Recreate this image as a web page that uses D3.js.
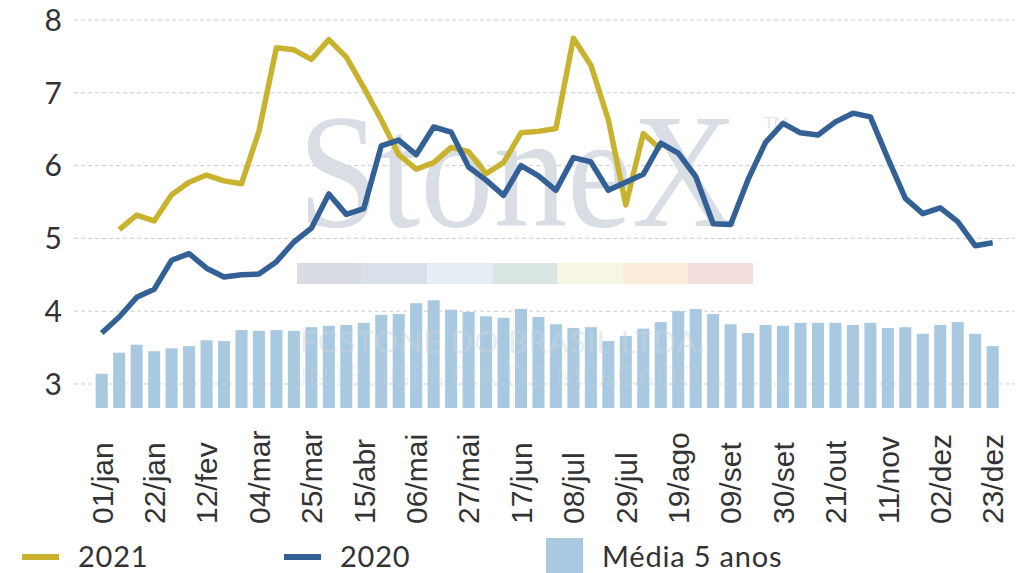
<!DOCTYPE html>
<html>
<head>
<meta charset="utf-8">
<script src="https://cdn.jsdelivr.net/npm/d3@7/dist/d3.min.js"></script>
<style>
  html, body { margin: 0; padding: 0; background: #fff; }
  svg { display: block; }
</style>
</head>
<body>
<svg id="chart"></svg>
<script>
// weekly dates (one per bar)
const weeks = [
  '01/jan', '08/jan', '15/jan', '22/jan', '29/jan',
  '05/fev', '12/fev', '19/fev', '26/fev',
  '04/mar', '11/mar', '18/mar', '25/mar',
  '01/abr', '08/abr', '15/abr', '22/abr', '29/abr',
  '06/mai', '13/mai', '20/mai', '27/mai',
  '03/jun', '10/jun', '17/jun', '24/jun',
  '01/jul', '08/jul', '15/jul', '22/jul', '29/jul',
  '05/ago', '12/ago', '19/ago', '26/ago',
  '02/set', '09/set', '16/set', '23/set', '30/set',
  '07/out', '14/out', '21/out', '28/out',
  '04/nov', '11/nov', '18/nov', '25/nov',
  '02/dez', '09/dez', '16/dez', '23/dez'
];

const tickLabels = ['01/jan', '22/jan', '12/fev', '04/mar', '25/mar', '15/abr', '06/mai', '27/mai',
  '17/jun', '08/jul', '29/jul', '19/ago', '09/set', '30/set', '21/out', '11/nov', '02/dez', '23/dez'];

const yTicks = [3, 4, 5, 6, 7, 8];

const media5 = [3.14, 3.43, 3.54, 3.45, 3.49, 3.52, 3.60, 3.59, 3.74, 3.73,
  3.74, 3.73, 3.78, 3.80, 3.81, 3.84, 3.95, 3.96, 4.11, 4.15,
  4.02, 3.99, 3.93, 3.91, 4.03, 3.92, 3.82, 3.77, 3.78, 3.59,
  3.66, 3.76, 3.85, 4.00, 4.03, 3.96, 3.82, 3.70, 3.81, 3.80,
  3.84, 3.84, 3.84, 3.81, 3.84, 3.77, 3.78, 3.69, 3.81, 3.85,
  3.69, 3.52];

const s2020 = [3.70, 3.92, 4.19, 4.30, 4.70, 4.79, 4.59, 4.47, 4.50, 4.51,
  4.68, 4.95, 5.14, 5.61, 5.33, 5.41, 6.27, 6.35, 6.15, 6.53,
  6.46, 5.98, 5.80, 5.59, 6.00, 5.86, 5.66, 6.11, 6.05, 5.66,
  5.77, 5.88, 6.31, 6.17, 5.85, 5.20, 5.19, 5.81, 6.32, 6.58,
  6.45, 6.42, 6.60, 6.72, 6.67, 6.10, 5.55, 5.34, 5.42, 5.23,
  4.90, 4.94];

const s2021 = [null, 5.12, 5.32, 5.24, 5.60, 5.77, 5.87, 5.79, 5.75, 6.47,
  7.62, 7.59, 7.46, 7.73, 7.49, 7.07, 6.63, 6.15, 5.95, 6.04,
  6.25, 6.19, 5.89, 6.04, 6.45, 6.47, 6.51, 7.75, 7.38, 6.63,
  5.46, 6.44, 6.22, null, null, null, null, null, null, null,
  null, null, null, null, null, null, null, null, null, null,
  null, null];

const COLOR_2021 = '#c9b22e';
const COLOR_2020 = '#336195';
const COLOR_BAR = '#a9c9e1';
const TEXT = '#333333';

const width = 1024, height = 573;

const svg = d3.select('#chart')
  .attr('width', width)
  .attr('height', height)
  .attr('viewBox', `0 0 ${width} ${height}`);

const x = d3.scaleBand()
  .domain(weeks)
  .range([93, 1001.4])
  .paddingInner(0.31)
  .paddingOuter(0.155);

const y = d3.scaleLinear()
  .domain([2.67, 8])
  .range([408, 20]);

const cx = d => x(d) + x.bandwidth() / 2;

// grid
svg.append('g')
  .selectAll('line')
  .data(yTicks)
  .join('line')
  .attr('x1', 74)
  .attr('x2', 1015)
  .attr('y1', d => y(d))
  .attr('y2', d => y(d))
  .attr('stroke', '#cfcfcf')
  .attr('stroke-width', 1)
  .attr('stroke-dasharray', '4,3');

// y labels
svg.append('g')
  .selectAll('text')
  .data(yTicks)
  .join('text')
  .attr('x', 62)
  .attr('y', d => y(d))
  .attr('dy', '0.36em')
  .attr('text-anchor', 'end')
  .attr('font-family', 'Lato, sans-serif')
  .attr('font-size', '30px')
  .attr('fill', TEXT)
  .text(d => d);

// bars
svg.append('g')
  .selectAll('rect')
  .data(media5)
  .join('rect')
  .attr('x', (d, i) => x(weeks[i]))
  .attr('width', x.bandwidth())
  .attr('y', d => y(d))
  .attr('height', d => y(2.67) - y(d))
  .attr('fill', COLOR_BAR);

// watermark
const wm = svg.append('g').attr('pointer-events', 'none');
const logo = wm.append('text')
  .attr('x', 0)
  .attr('y', 0)
  .attr('font-family', '"Liberation Serif", serif')
  .attr('font-size', '164px')
  .attr('fill', '#d9dee5')
  .text('StoneX');
const logoLen = logo.node().getComputedTextLength();
logo.attr('transform', `translate(298, 226) scale(${440 / logoLen}, 1)`);
wm.append('text')
  .attr('x', 764)
  .attr('y', 128)
  .attr('font-family', 'Lato, sans-serif')
  .attr('font-size', '16px')
  .attr('fill', '#e2e6eb')
  .text('TM');
const stripColors = ['#d9dce2', '#d8e0e9', '#e5edf5', '#d9e5e1', '#f7f6e5', '#f9ecd9', '#f2dcdc'];
const strip = d3.scaleBand().domain(d3.range(stripColors.length)).range([297, 753]);
wm.append('g')
  .selectAll('rect')
  .data(stripColors)
  .join('rect')
  .attr('x', (d, i) => strip(i))
  .attr('y', 263)
  .attr('width', strip.bandwidth())
  .attr('height', 21)
  .attr('fill', d => d);
wm.append('text')
  .attr('x', 300)
  .attr('y', 353)
  .attr('font-family', 'Lato, sans-serif')
  .attr('font-size', '30px')
  .attr('textLength', 405)
  .attr('lengthAdjust', 'spacing')
  .attr('fill', '#d0d4da')
  .attr('fill-opacity', 0.45)
  .text('FCSTONE DO BRASIL LTDA.');
wm.append('text')
  .attr('x', 300)
  .attr('y', 386)
  .attr('font-family', 'Lato, sans-serif')
  .attr('font-weight', 300)
  .attr('font-size', '27px')
  .attr('textLength', 400)
  .attr('lengthAdjust', 'spacing')
  .attr('fill', '#d0d4da')
  .attr('fill-opacity', 0.35)
  .text('INTELIGÊNCIA DE MERCADO');

// lines
const line = d3.line()
  .defined(d => d.v != null)
  .x(d => cx(d.w))
  .y(d => y(d.v));

svg.append('path')
  .datum(weeks.map((w, i) => ({ w, v: s2021[i] })))
  .attr('fill', 'none')
  .attr('stroke', COLOR_2021)
  .attr('stroke-width', 5.5)
  .attr('stroke-linejoin', 'round')
  .attr('d', line);

svg.append('path')
  .datum(weeks.map((w, i) => ({ w, v: s2020[i] })))
  .attr('fill', 'none')
  .attr('stroke', COLOR_2020)
  .attr('stroke-width', 5.5)
  .attr('stroke-linejoin', 'round')
  .attr('d', line);

// x labels
svg.append('g')
  .selectAll('text')
  .data(tickLabels)
  .join('text')
  .attr('transform', d => `translate(${cx(d)}, 524) rotate(-90)`)
  .attr('dy', '0.36em')
  .attr('text-anchor', 'start')
  .attr('font-family', '"Liberation Sans", Arial, sans-serif')
  .attr('font-size', '30px')
  .attr('fill', TEXT)
  .text(d => d);

// legend
const legend = svg.append('g')
  .attr('font-family', 'Lato, sans-serif')
  .attr('font-size', '29px')
  .attr('letter-spacing', '0.8px')
  .attr('fill', TEXT);

[['2021', COLOR_2021, 22], ['2020', COLOR_2020, 284]].forEach(([label, color, lx]) => {
  legend.append('line')
    .attr('x1', lx).attr('x2', lx + 37)
    .attr('y1', 557).attr('y2', 557)
    .attr('stroke', color)
    .attr('stroke-width', 6);
  legend.append('text')
    .attr('x', lx + 56)
    .attr('y', 567)
    .text(label);
});

legend.append('rect')
  .attr('x', 546).attr('y', 538)
  .attr('width', 37).attr('height', 37)
  .attr('fill', COLOR_BAR);
legend.append('text')
  .attr('x', 602)
  .attr('y', 567)
  .text('Média 5 anos');
</script>
</body>
</html>
